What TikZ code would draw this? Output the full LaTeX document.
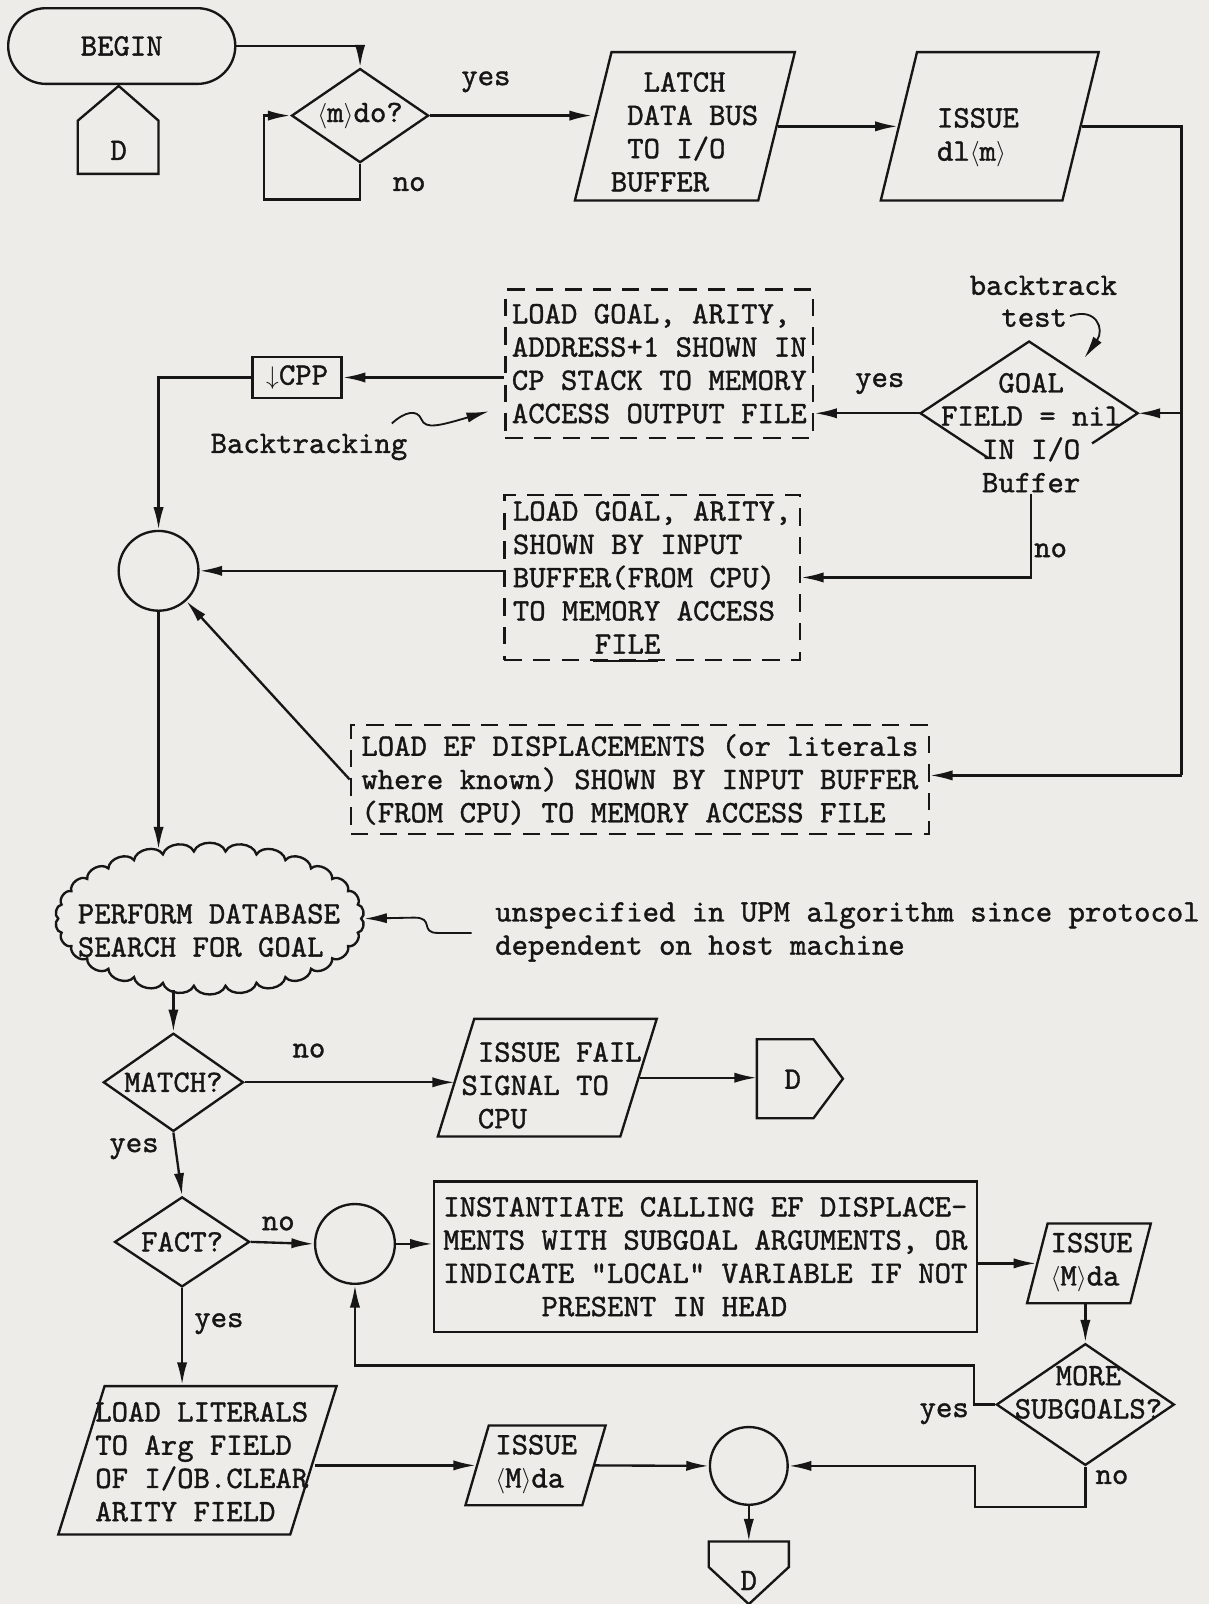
\documentclass[tikz,border=0pt]{standalone}
\usepackage{fontspec}
\setmonofont{lmmono10-regular.otf}[FakeBold=1.2]
\usetikzlibrary{shapes.geometric,arrows.meta,calc}
\definecolor{paper}{RGB}{237,236,232}
\definecolor{ink}{RGB}{22,22,22}
\newcommand\typew{\fontsize{30.5}{32.5}\selectfont\ttfamily}
\begin{document}
\begin{tikzpicture}[x=1pt,y=-1pt,line width=2.3pt,color=ink,
  every node/.style={font=\typew,text=ink,inner sep=0pt},
  arr/.style={-{Latex[length=22pt,width=10pt]}},
  sbox/.style={draw,rectangle,inner sep=4pt,align=left},
  dbox/.style={draw,rectangle,dash pattern=on 17pt off 11pt,inner sep=4pt,align=left},
  dia/.style={draw,diamond,inner sep=0pt},
  para/.style={draw,trapezium,trapezium left angle=76,trapezium right angle=104,trapezium stretches=true,inner sep=2pt},
  conn/.style={draw,circle,inner sep=0pt}]
\fill[paper] (0,0) rectangle (1182,1568);
\useasboundingbox (0,0) rectangle (1182,1568);

% ---------- top row
\node[draw,rectangle,rounded corners=37pt,minimum width=222pt,minimum height=74pt] (begin) at (119,45) {BEGIN};
\draw (76,170) -- (76,118) -- (116,84) -- (155,118) -- (155,170) -- cycle;
\node (dtop) at (116,147) {D};

\node[dia,aspect=1.46,minimum width=134pt,minimum height=92pt] (d1) at (352,113) {$\langle$m$\rangle$do?};
\node (yes1) at (475,80) {yes};
\node (no1) at (400,180) {no};

\node[para,minimum width=215pt,minimum height=145pt] (latch) at (669.5,123.5) {};
\node[align=left,anchor=west] (latchT) at (596,129) {\phantom{XX}LATCH\\\phantom{X}DATA BUS\\\phantom{X}TO I/O\\BUFFER};

\node[para,minimum width=213pt,minimum height=145pt] (issue1) at (967.5,123.5) {};
\node[align=left] (issue1T) at (956,134.5) {ISSUE\\dl$\langle$m$\rangle$};

% ---------- backtrack area
\node[dbox,minimum width=301pt,minimum height=145pt] (dash1) at (644.5,355.5) {LOAD GOAL, ARITY,\\ADDRESS+1 SHOWN IN\\CP STACK TO MEMORY\\ACCESS OUTPUT FILE};

\node[diamond,minimum width=210pt,minimum height=138pt] (d2) at (1006,404) {};
\draw ($(d2.west)!0.62!(d2.south)$) -- (d2.west) -- (d2.north) -- (d2.east) -- ($(d2.east)!0.42!(d2.south)$);
\node[align=center] (d2T) at (1008,423) {GOAL\\FIELD = nil\\IN I/O\\Buffer};
\node (bt1) at (1020,279) {backtrack};
\node (bt2) at (1011,311) {test};
\coordinate (btA) at (1046,309);
\coordinate (btB) at (1060,350);
\draw[arr,line width=1.8pt] (btA) .. controls (1072,300) and (1080,322) .. (btB);
\node (yes2) at (860,375) {yes};

\node[draw,rectangle,minimum width=87pt,minimum height=40pt] (cpp) at (290.5,369) {$\downarrow$CPP};
\node[conn,minimum size=78pt] (c1) at (155,558) {};
\node (btk) at (302,437) {Backtracking};
\coordinate (bkA) at (383,414);
\coordinate (bkB) at (478,402);
\draw[arr,line width=1.8pt] (bkA) .. controls (396,402) and (408,400) .. (412,410) .. controls (416,420) and (430,416) .. (bkB);

\node[dbox,minimum width=289pt,minimum height=161pt] (dash2) at (637.5,564.5) {LOAD GOAL, ARITY,\\SHOWN BY INPUT\\BUFFER(FROM CPU)\\TO MEMORY ACCESS\\\phantom{XXXXX}FILE};
\draw ($(dash2.south)+(-57.5,0)$) -- ($(dash2.south)+(5.5,0)$);
\node (no2) at (1027,538) {no};

\node[dbox,minimum width=565pt,minimum height=106pt] (ldef) at (625.5,762) {LOAD EF DISPLACEMENTS (or literals\\where known) SHOWN BY INPUT BUFFER\\(FROM CPU) TO MEMORY ACCESS FILE};

% ---------- database search
\node[ellipse,minimum width=300pt,minimum height=137pt] (cloud) at (205,898) {};
\draw (353,898) foreach \t in {12,24,...,360} { to[bend left=70] ({205+148*cos(\t)},{898+66*sin(\t)}) } -- cycle;
\node[anchor=west,align=left] (cloudT) at (75,909.5) {PERFORM DATABASE\\SEARCH FOR GOAL};
\node[anchor=west,align=left] (unsp) at (483,911) {unspecified in UPM algorithm since protocol\\dependent on host machine};
\coordinate (usA) at (461,912);
\draw[arr,line width=1.8pt] (usA) -- (428,912) .. controls (410,912) and (425,897) .. (405,897) -- (cloud.east);

\node[dia,aspect=1.43,minimum width=137pt,minimum height=96pt] (m) at (169.5,1058) {MATCH?};
\node (no3) at (302,1027) {no};
\node[para,minimum width=214pt,minimum height=115pt] (fail) at (535,1053.5) {};
\node[align=left,anchor=west] (failT) at (450,1061) {\phantom{X}ISSUE FAIL\\SIGNAL TO\\\phantom{X}CPU};
\node[minimum width=53pt,minimum height=75pt] (dfail) at (767.5,1054.5) {};
\draw (dfail.north west) -- (dfail.north east) -- (824,1054.5) -- (dfail.south east) -- (dfail.south west) -- cycle;
\node (dfailT) at (775,1055) {D};

\node (yes3) at (131,1123) {yes};
\node[dia,aspect=1.5,minimum width=132pt,minimum height=88pt] (fact) at (178,1214) {FACT?};
\node (no4) at (272,1196) {no};
\node (yes4) at (214,1294) {yes};
\node[conn,minimum size=78pt] (c2) at (347,1216) {};
\node[sbox,minimum width=531pt,minimum height=147pt] (inst) at (689.5,1228.5) {INSTANTIATE CALLING EF DISPLACE-\\MENTS WITH SUBGOAL ARGUMENTS, OR\\INDICATE "LOCAL" VARIABLE IF NOT\\\phantom{XXXXXX}PRESENT IN HEAD};
\node[para,minimum width=121pt,minimum height=78pt] (issue3) at (1064.5,1235) {};
\node[align=left] (issue3T) at (1067,1234) {ISSUE\\$\langle$M$\rangle$da};
\node[diamond,draw,minimum width=174pt,minimum height=119pt] (more) at (1061,1373) {};
\node[align=center] (moreT) at (1064,1361) {MORE\\SUBGOALS?};
\node (yes5) at (923,1382) {yes};
\node (no5) at (1087,1444) {no};

\node[para,minimum width=272pt,minimum height=145pt] (lit) at (193,1427.5) {};
\node[align=left,anchor=west] (litT) at (92,1429) {LOAD LITERALS\\TO Arg FIELD\\OF I/OB.CLEAR\\ARITY FIELD};
\node[para,minimum width=137pt,minimum height=78pt] (issue2) at (523.5,1432.5) {};
\node[align=left,anchor=west] (issue2T) at (483,1431.5) {ISSUE\\$\langle$M$\rangle$da};
\node[conn,minimum size=76pt] (c3) at (732,1433) {};
\node[minimum width=76pt,minimum height=59pt] (dbot) at (732,1537.5) {};
\draw (dbot.north west) -- (dbot.north east) -- ($(dbot.north east)+(0,25)$) -- (dbot.south) -- ($(dbot.north west)+(0,25)$) -- cycle;
\node (dbotT) at (732,1545) {D};

% ---------- connectors
\draw[arr] (begin.east) -| (d1.north);
\draw[arr] (d1.south) -- (352,195) -- (258,195) -- (258,113) -- (d1.west);
\draw[arr] (d1.east) -- (d1.east -| latch.west);
\draw[arr] (latch.east) -- (issue1.west);
\coordinate (rj1) at (1155,404);
\coordinate (rj2) at (1155,758);
\draw (issue1.east) -| (rj2);
\draw[arr] (rj1) -- (d2.east);
\draw[arr] (rj2) -- (rj2 -| ldef.east);
\draw[arr] (d2.west) -- (d2.west -| dash1.east);
\draw[arr] (dash1.west |- cpp.east) -- (cpp.east);
\draw[arr] (cpp.west) -| (c1.north);
\draw[arr] (d2T.south) |- (dash2.east);
\draw[arr] (dash2.west |- c1) -- (c1.east);
\draw[arr] (ldef.west) -- (c1);
\draw[arr] (c1.south) -- ($(c1.south |- cloud.north)+(0,2)$);
\draw[arr] (cloud.south -| m.north) -- (m.north);
\draw[arr] (m.east) -- (m.east -| fail.west);
\draw[arr] (fail.east) -- (fail.east -| dfail.west);
\draw[arr] (m.south) -- (fact.north);
\draw[arr] (fact.east) -- (c2.west);
\draw[arr] (c2.east) -- (c2.east -| inst.west);
\draw[arr] (issue3.west -| inst.east) -- (issue3.west);
\draw[arr] (more.north |- issue3.south) -- (more.north);
\draw[arr] (more.west) -- (952,1373) -- (952,1335) -| (c2.south);
\draw[arr] (more.south) -- (1061,1473) -- (953,1473) -- (953,1433) -- (c3.east);
\draw[arr] (fact.south) -- (fact.south |- lit.north);
\draw[arr] (issue2.west -| lit.east) -- (issue2.west);
\draw[arr] (issue2.east) -- (c3.west);
\draw[arr] (c3.south) -- (dbot.north);
\end{tikzpicture}
\end{document}
